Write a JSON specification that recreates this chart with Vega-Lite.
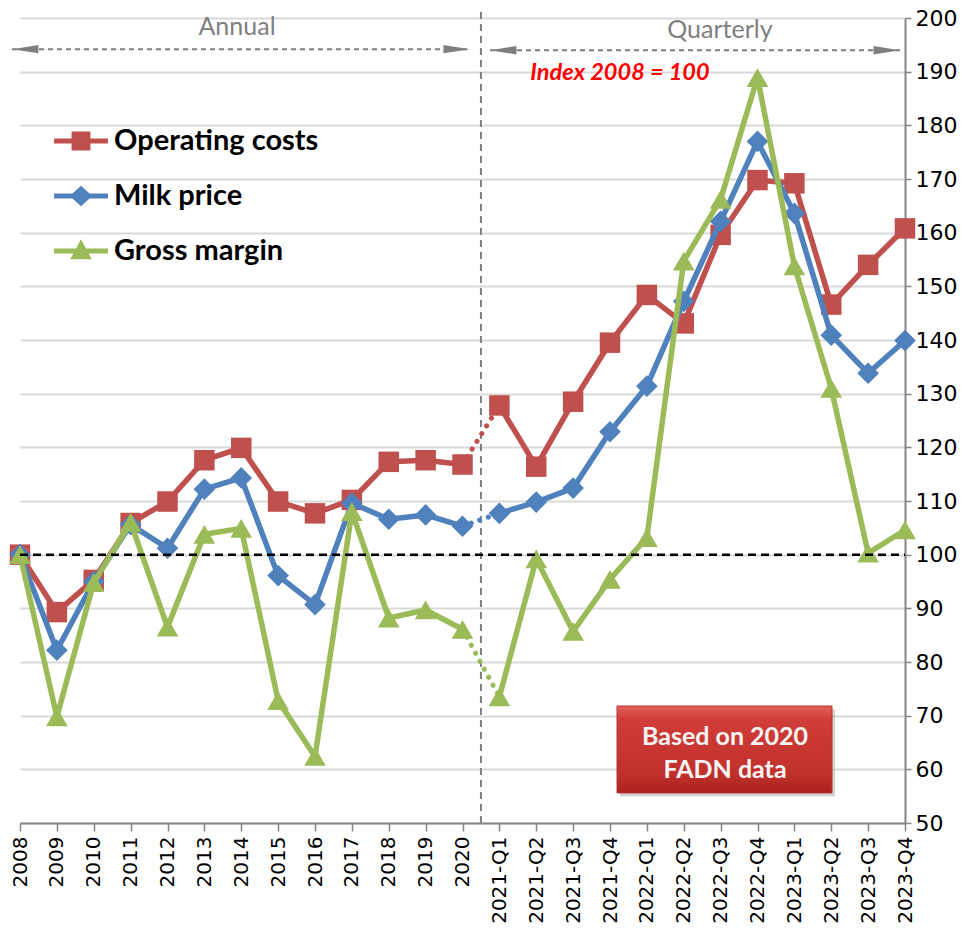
{
  "$schema": "https://vega.github.io/schema/vega-lite/v6.json",
  "width": 885,
  "height": 805,
  "autosize": "none",
  "padding": {"left": 20, "top": 18, "right": 68, "bottom": 110},
  "background": "white",
  "config": {
    "view": {"stroke": null},
    "font": "Lato",
    "axis": {"labelOverlap": false},
    "axisX": {"labelOverlap": false}
  },
  "datasets": {
    "main": [
      {"i": 0, "period": "2008", "seg": "A", "Operating costs": 100, "Milk price": 100, "Gross margin": 100},
      {"i": 1, "period": "2009", "seg": "A", "Operating costs": 89.3, "Milk price": 82.2, "Gross margin": 69.8},
      {"i": 2, "period": "2010", "seg": "A", "Operating costs": 95.3, "Milk price": 95.0, "Gross margin": 94.8},
      {"i": 3, "period": "2011", "seg": "A", "Operating costs": 105.9, "Milk price": 105.6, "Gross margin": 106.0},
      {"i": 4, "period": "2012", "seg": "A", "Operating costs": 109.9, "Milk price": 101.2, "Gross margin": 86.5},
      {"i": 5, "period": "2013", "seg": "A", "Operating costs": 117.6, "Milk price": 112.2, "Gross margin": 103.8},
      {"i": 6, "period": "2014", "seg": "A", "Operating costs": 119.9, "Milk price": 114.3, "Gross margin": 104.9},
      {"i": 7, "period": "2015", "seg": "A", "Operating costs": 109.9, "Milk price": 96.1, "Gross margin": 72.8},
      {"i": 8, "period": "2016", "seg": "A", "Operating costs": 107.7, "Milk price": 90.7, "Gross margin": 62.4},
      {"i": 9, "period": "2017", "seg": "A", "Operating costs": 110.2, "Milk price": 109.6, "Gross margin": 108.0},
      {"i": 10, "period": "2018", "seg": "A", "Operating costs": 117.3, "Milk price": 106.6, "Gross margin": 88.2},
      {"i": 11, "period": "2019", "seg": "A", "Operating costs": 117.6, "Milk price": 107.4, "Gross margin": 89.7},
      {"i": 12, "period": "2020", "seg": "A", "Operating costs": 116.8, "Milk price": 105.3, "Gross margin": 86.1},
      {"i": 13, "period": "2021-Q1", "seg": "Q", "Operating costs": 127.8, "Milk price": 107.7, "Gross margin": 73.5},
      {"i": 14, "period": "2021-Q2", "seg": "Q", "Operating costs": 116.4, "Milk price": 109.8, "Gross margin": 99.2},
      {"i": 15, "period": "2021-Q3", "seg": "Q", "Operating costs": 128.5, "Milk price": 112.4, "Gross margin": 85.7},
      {"i": 16, "period": "2021-Q4", "seg": "Q", "Operating costs": 139.5, "Milk price": 122.9, "Gross margin": 95.4},
      {"i": 17, "period": "2022-Q1", "seg": "Q", "Operating costs": 148.4, "Milk price": 131.4, "Gross margin": 103.2},
      {"i": 18, "period": "2022-Q2", "seg": "Q", "Operating costs": 143.1, "Milk price": 147.2, "Gross margin": 154.7},
      {"i": 19, "period": "2022-Q3", "seg": "Q", "Operating costs": 159.6, "Milk price": 162.1, "Gross margin": 166.2},
      {"i": 20, "period": "2022-Q4", "seg": "Q", "Operating costs": 169.8, "Milk price": 177.0, "Gross margin": 188.9},
      {"i": 21, "period": "2023-Q1", "seg": "Q", "Operating costs": 169.2, "Milk price": 163.6, "Gross margin": 153.8},
      {"i": 22, "period": "2023-Q2", "seg": "Q", "Operating costs": 146.6, "Milk price": 140.9, "Gross margin": 131.0},
      {"i": 23, "period": "2023-Q3", "seg": "Q", "Operating costs": 154.0, "Milk price": 133.8, "Gross margin": 100.3},
      {"i": 24, "period": "2023-Q4", "seg": "Q", "Operating costs": 160.8, "Milk price": 139.9, "Gross margin": 104.6}
    ],
    "arrows": [
      {"arrow": "annual", "i": -0.217, "v": 194.2, "end": "L"},
      {"arrow": "annual", "i": 12.2, "v": 194.2, "end": "R"},
      {"arrow": "quarterly", "i": 12.746, "v": 194.0, "end": "L"},
      {"arrow": "quarterly", "i": 23.864, "v": 194.0, "end": "R"}
    ],
    "labels": [
      {"i": 5.885, "v": 198.3, "t": "Annual"},
      {"i": 18.98, "v": 197.8, "t": "Quarterly"}
    ]
  },
  "encoding": {
    "x": {
      "field": "i", "type": "quantitative",
      "scale": {"domain": [0, 24], "nice": false, "zero": false},
      "axis": {
        "title": null, "tickCount": 24, "tickMinStep": 1,
        "labelExpr": "['2008','2009','2010','2011','2012','2013','2014','2015','2016','2017','2018','2019','2020','2021-Q1','2021-Q2','2021-Q3','2021-Q4','2022-Q1','2022-Q2','2022-Q3','2022-Q4','2023-Q1','2023-Q2','2023-Q3','2023-Q4'][datum.value]",
        "labelAngle": 270, "labelFont": "DejaVu Sans", "labelFontSize": 20, "labelColor": "black",
        "labelPadding": 5, "tickSize": 8, "tickColor": "#868686", "tickWidth": 1.5,
        "domainColor": "#868686", "domainWidth": 2, "grid": false, "labelOverlap": false, "labelFlush": false, "labelBound": false, "labelSeparation": 0
      }
    },
    "y": {
      "field": "v", "type": "quantitative",
      "scale": {"domain": [50, 200], "nice": false, "zero": false},
      "axis": {
        "title": null, "orient": "right", "values": [50,60,70,80,90,100,110,120,130,140,150,160,170,180,190,200],
        "labelFont": "DejaVu Sans", "labelFontSize": 22, "labelColor": "black", "labelPadding": 4,
        "tickSize": 6, "tickColor": "#868686", "tickWidth": 1.5, "domainColor": "#868686", "domainWidth": 2,
        "grid": true, "gridColor": "#d9d9d9", "gridWidth": 2, "labelOverlap": false, "labelFlush": false, "labelBound": false
      }
    }
  },
  "layer": [
    {
      "data": {"values": [{"i": 12.5, "v": 50, "v2": 201.2}]},
      "mark": {"type": "rule", "color": "#7f7f7f", "strokeWidth": 2, "strokeDash": [7, 5]},
      "encoding": {"y2": {"field": "v2"}}
    },
    {
      "data": {"name": "main"},
      "transform": [{"fold": ["Operating costs", "Milk price", "Gross margin"], "as": ["series", "v"]}],
      "encoding": {
        "color": {
          "field": "series", "type": "nominal",
          "scale": {"domain": ["Operating costs", "Milk price", "Gross margin"], "range": ["#C0504D", "#4F81BD", "#9BBB59"]},
          "legend": {
            "orient": "none", "legendX": 34, "legendY": 96, "direction": "vertical", "title": null,
            "labelFont": "Lato", "labelFontSize": 29, "labelFontWeight": "bold", "labelColor": "black", "labelLimit": 500,
            "symbolSize": 2900, "symbolStrokeWidth": 0, "symbolOpacity": 1, "labelOffset": 6, "rowPadding": 13, "padding": 0
          }
        }
      },
      "layer": [
        {
          "mark": {"type": "point", "filled": true, "size": 0, "strokeWidth": 0},
          "encoding": {
            "shape": {
              "field": "series", "type": "nominal",
              "scale": {
                "domain": ["Operating costs", "Milk price", "Gross margin"],
                "range": [
                  "M-1,-0.095L1,-0.095L1,0.095L-1,0.095Z M-0.35,-0.35L0.35,-0.35L0.35,0.35L-0.35,0.35Z",
                  "M-1,-0.095L1,-0.095L1,0.095L-1,0.095Z M0,-0.38L0.42,0L0,0.38L-0.42,0Z",
                  "M-1,-0.095L1,-0.095L1,0.095L-1,0.095Z M0,-0.44L0.4,0.31L-0.4,0.31Z"
                ]
              },
              "legend": {
                "orient": "none", "legendX": 34, "legendY": 96, "direction": "vertical", "title": null,
                "labelFont": "Lato", "labelFontSize": 29, "labelFontWeight": "bold", "labelColor": "black", "labelLimit": 500,
                "symbolSize": 2900, "symbolStrokeWidth": 0, "symbolOpacity": 1, "labelOffset": 6, "rowPadding": 13, "padding": 0
              }
            }
          }
        },
        {
          "transform": [{"filter": "datum.series == 'Operating costs'"}],
          "layer": [
            {"mark": {"type": "line", "strokeWidth": 5.5, "strokeJoin": "round", "strokeCap": "round"}, "encoding": {"detail": {"field": "seg"}}},
            {"transform": [{"filter": "datum.i == 12 || datum.i == 13"}], "mark": {"type": "line", "strokeWidth": 5, "strokeCap": "round", "strokeDash": [0.1, 9]}},
            {"mark": {"type": "point", "filled": true, "opacity": 1, "size": 420, "shape": "square", "strokeWidth": 0}}
          ]
        },
        {
          "transform": [{"filter": "datum.series == 'Milk price'"}],
          "layer": [
            {"mark": {"type": "line", "strokeWidth": 5.5, "strokeJoin": "round", "strokeCap": "round"}, "encoding": {"detail": {"field": "seg"}}},
            {"transform": [{"filter": "datum.i == 12 || datum.i == 13"}], "mark": {"type": "line", "strokeWidth": 5, "strokeCap": "round", "strokeDash": [0.1, 9]}},
            {"mark": {"type": "point", "filled": true, "opacity": 1, "size": 470, "shape": "diamond", "strokeWidth": 0}}
          ]
        },
        {
          "transform": [{"filter": "datum.series == 'Gross margin'"}],
          "layer": [
            {"mark": {"type": "line", "strokeWidth": 5.5, "strokeJoin": "round", "strokeCap": "round"}, "encoding": {"detail": {"field": "seg"}}},
            {"transform": [{"filter": "datum.i == 12 || datum.i == 13"}], "mark": {"type": "line", "strokeWidth": 5, "strokeCap": "round", "strokeDash": [0.1, 9]}},
            {"mark": {"type": "point", "filled": true, "opacity": 1, "size": 470, "shape": "triangle-up", "strokeWidth": 0}}
          ]
        }
      ]
    },
    {
      "data": {"values": [{"i": 0, "i2": 24, "v": 100}]},
      "mark": {"type": "rule", "color": "black", "strokeWidth": 2.5, "strokeDash": [8, 5]},
      "encoding": {"x2": {"field": "i2"}}
    },
    {
      "data": {"name": "arrows"},
      "mark": {"type": "line", "color": "#7f7f7f", "strokeWidth": 2, "strokeDash": [5, 4]},
      "encoding": {"detail": {"field": "arrow"}}
    },
    {
      "data": {"name": "arrows"},
      "transform": [{"filter": "datum.end == 'L'"}],
      "mark": {"type": "point", "filled": true, "opacity": 1, "color": "#7f7f7f", "size": 700, "strokeWidth": 0, "shape": "M0,0L2,-0.32L2,0.32Z"}
    },
    {
      "data": {"name": "arrows"},
      "transform": [{"filter": "datum.end == 'R'"}],
      "mark": {"type": "point", "filled": true, "opacity": 1, "color": "#7f7f7f", "size": 700, "strokeWidth": 0, "shape": "M0,0L-2,-0.32L-2,0.32Z"}
    },
    {
      "data": {"name": "labels"},
      "mark": {"type": "text", "font": "Lato", "fontSize": 25, "color": "#7f7f7f", "align": "center", "baseline": "middle"},
      "encoding": {"text": {"field": "t"}}
    },
    {
      "data": {"values": [{"i": 16.27, "v": 189.75, "t": "Index 2008 = 100"}]},
      "mark": {"type": "text", "font": "Lato", "fontSize": 23.5, "fontWeight": "bold", "fontStyle": "italic", "color": "#ff0000", "align": "center", "baseline": "middle"},
      "encoding": {"text": {"field": "t"}}
    },
    {
      "data": {"values": [{"i": 16.27, "i2": 22.1, "v": 71.2, "v2": 55.0}]},
      "mark": {"type": "rect", "color": "#9a9a9a", "opacity": 0.45},
      "encoding": {"x2": {"field": "i2"}, "y2": {"field": "v2"}}
    },
    {
      "data": {"values": [{"i": 16.19, "i2": 22.02, "v": 71.8, "v2": 55.6}]},
      "mark": {
        "type": "rect", "opacity": 1, "stroke": "#b83430", "strokeWidth": 1,
        "fill": {"gradient": "linear", "x1": 0, "y1": 0, "x2": 0, "y2": 1,
          "stops": [{"offset": 0, "color": "#e2605b"}, {"offset": 0.15, "color": "#d13d38"}, {"offset": 0.8, "color": "#c0302b"}, {"offset": 1, "color": "#a8211d"}]}
      },
      "encoding": {"x2": {"field": "i2"}, "y2": {"field": "v2"}}
    },
    {
      "data": {"values": [{"i": 19.12, "v": 66.0, "t": "Based on 2020"}, {"i": 19.12, "v": 59.9, "t": "FADN data"}]},
      "mark": {"type": "text", "font": "Lato", "fontSize": 25, "fontWeight": "bold", "color": "#f4f4f4", "align": "center", "baseline": "middle"},
      "encoding": {"text": {"field": "t"}}
    }
  ]
}
